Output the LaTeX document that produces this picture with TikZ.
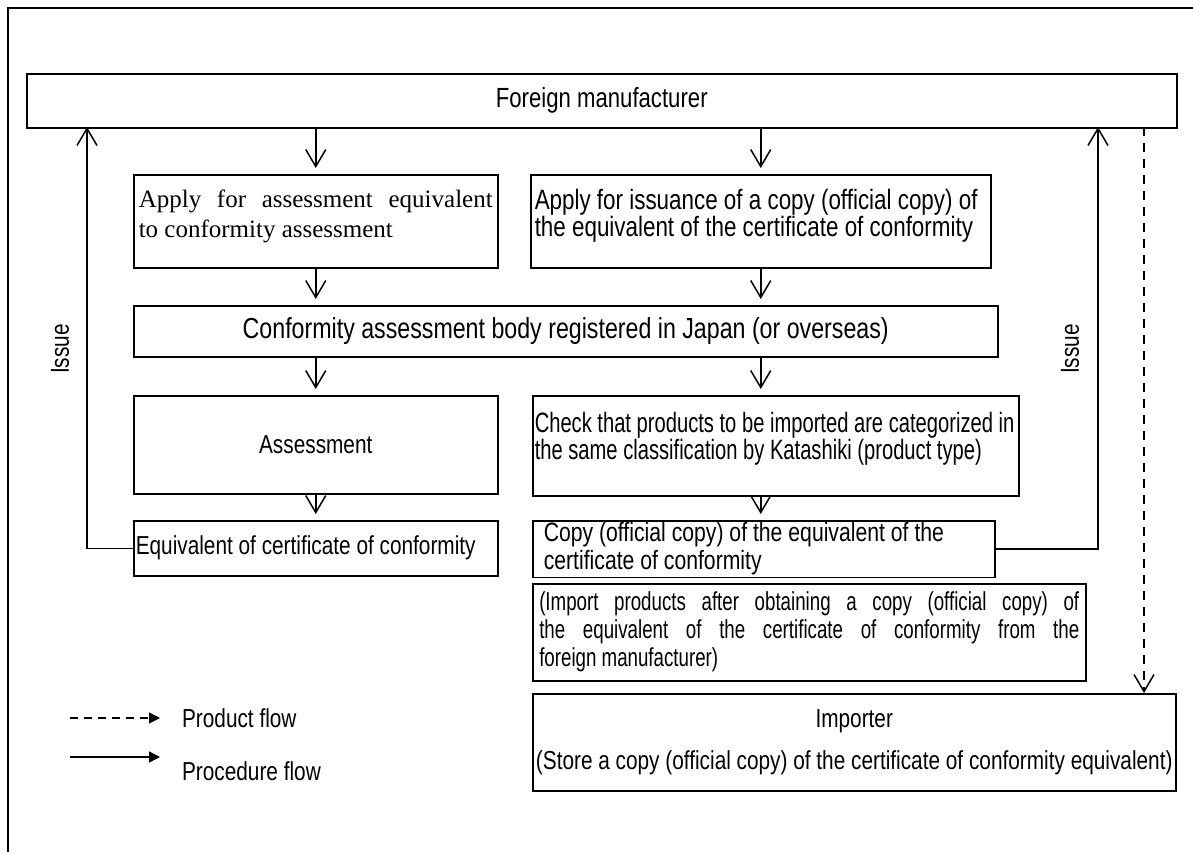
\documentclass[tikz,border=0pt]{standalone}
\usepackage{fontspec}
\setmainfont{Liberation Sans}[FakeStretch=0.8]
\newfontfamily\serifface{Liberation Serif}
\newfontfamily\narrowface{Liberation Sans}[FakeStretch=0.72]
\usepackage{tikz}
\usetikzlibrary{positioning, arrows.meta}
\newcommand{\fs}[2]{\fontsize{#1}{#2}\selectfont}
\newcommand{\jline}[2]{\makebox[#1][s]{\spaceskip=0pt\xspaceskip=0pt\relax #2}}

\begin{document}
\begin{tikzpicture}[x = 1pt, y = -1pt, > = {Straight Barb[length = 17pt, width = 20pt]}, line width = 1.5pt, box/.style = {draw, anchor = north west, inner sep = 2pt, font = \fs{26}{28}, execute at begin node = {\spaceskip=0pt\xspaceskip=0pt\relax}}, flow/.style = {->, shorten > = 6pt}, tag/.style = {font = \fs{26}{28}}]
  \useasboundingbox (0,0) rectangle (1193,852);
  % frame
  \draw (8,852) -- (8,8) -- (1193,8);

  % nodes
  \node [box, minimum width = 1150, minimum height = 54, font = \fs{27.7}{28}] (foreign-maker) at (26,73) {Foreign manufacturer};
  \node [box, minimum width = 364, minimum height = 93, text width = 354, align = left, font = \serifface\fs{25}{30}] (apply-1) at (133,174) {\jline{354pt}{Apply for assessment equivalent}\\to conformity assessment\\[-14pt]\mbox{}};
  \node [box, minimum width = 460, minimum height = 93, text width = 452, align = left, font = \fs{28}{27}] (apply-2) at (530,174) {Apply for issuance of a copy (official copy) of\\the equivalent of the certificate of conformity\\[-11pt]\mbox{}};
  \node [box, minimum width = 864, minimum height = 51, font = \fs{29}{28}] (body) at (133,305) {Conformity assessment body registered in Japan (or overseas)};
  \node [box, minimum width = 364, minimum height = 98] (assess) at (133,395) {Assessment};
  \node [box, minimum width = 486, minimum height = 100, text width = 482, align = left, font = \narrowface\fs{28}{26}] (check) at (532,395) {Check that products to be imported are categorized in\\the same classification by Katashiki (product type)\\[-6pt]\mbox{}};
  \node [box, minimum width = 364, minimum height = 55, text width = 360, align = left] (equiv) at (133,520) {Equivalent of certificate of conformity};
  \node [box, minimum width = 462, minimum height = 55, text width = 440, align = left, font = \fs{26.5}{28}] (copy) at (532,520) {Copy (official copy) of the equivalent of the\\certificate of conformity};
  \node [box, minimum width = 553, minimum height = 97, text width = 540, align = left, font = \narrowface\fs{26}{28}] (import-note) at (532,583) {\jline{540pt}{(Import products after obtaining a copy (official copy) of}\\\jline{540pt}{the equivalent of the certificate of conformity from the}\\foreign manufacturer)};
  \node [box, minimum width = 643, minimum height = 97, align = center, font = \fs{26}{28}] (importer) at (532,693) {Importer\\[14pt](Store a copy (official copy) of the certificate of conformity equivalent)};

  \node [tag, rotate = 90] (issue-left-label) at (60,349) {Issue};
  \node [tag, rotate = 90] (issue-right-label) at (1070,349) {Issue};

  \coordinate (issue-left) at (87,127);
  \coordinate (issue-right) at (1098,127);
  \coordinate (product-start) at (1144,127);

  % edges
  \draw [flow] (foreign-maker.south -| apply-1.north) -- (apply-1.north);
  \draw [flow] (foreign-maker.south -| apply-2.north) -- (apply-2.north);
  \draw [flow] (apply-1.south) -- (body.north -| apply-1.south);
  \draw [flow] (apply-2.south) -- (body.north -| apply-2.south);
  \draw [flow] (body.south -| apply-1.south) -- (assess.north);
  \draw [flow] (body.south -| apply-2.south) -- (check.north -| apply-2.south);
  \draw [flow] (assess.south) -- (equiv.north);
  \draw [flow] (check.south -| apply-2.south) -- (copy.north -| apply-2.south);

  \draw [->] (equiv.west) -| (issue-left);
  \draw [->] (copy.east) -| (issue-right);
  \draw [->, dash pattern = on 9pt off 7pt] (product-start) -- (product-start |- importer.north);

  % legend
  \coordinate (legend-a) at (70,718);
  \coordinate (legend-b) at (70,757);
  \draw [-{Triangle[length = 11pt, width = 11pt]}, dash pattern = on 8pt off 6pt] (legend-a) -- ++(90,0) coordinate (legend-a-end);
  \draw [-{Triangle[length = 11pt, width = 11pt]}] (legend-b) -- ++(90,0) coordinate (legend-b-end);
  \node [tag, anchor = west] (product-flow) at ([xshift = 18pt] legend-a-end) {Product flow};
  \node [tag, anchor = west] (procedure-flow) at ([xshift = 18pt, yshift = -14pt] legend-b-end) {Procedure flow};

\end{tikzpicture}
\end{document}
